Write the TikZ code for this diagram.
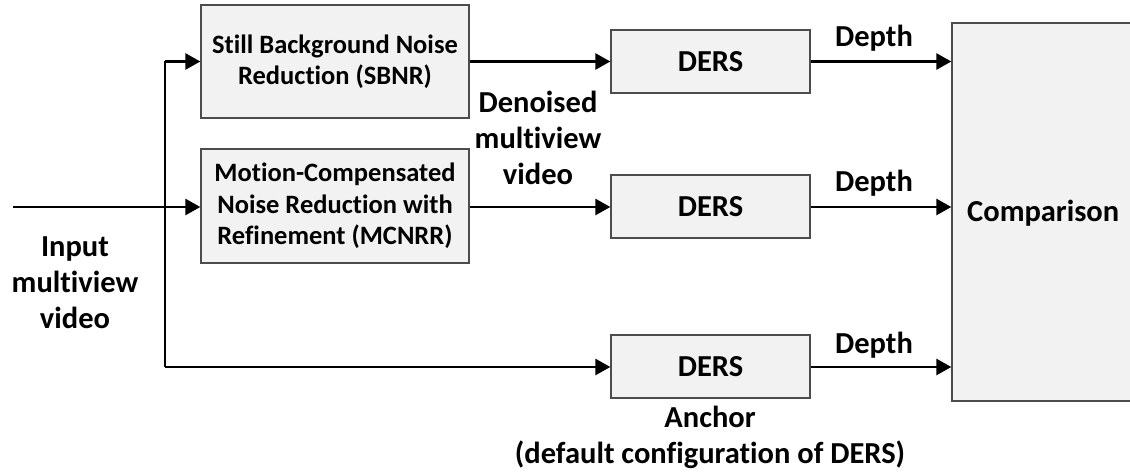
\documentclass[tikz,border=0pt]{standalone}
\usepackage{fontspec}
\setmainfont{Carlito}[Ligatures=NoCommon]
\usetikzlibrary{arrows.meta}
\begin{document}
\begin{tikzpicture}[x=1pt,y=-1pt,
  blk/.style={draw=black!70, line width=1.3pt, fill=black!5, inner sep=0pt},
  bigtxt/.style={font=\bfseries\fontsize{26.5}{31.5}\selectfont, align=center},
  derstxt/.style={font=\bfseries\fontsize{30.5}{36}\selectfont},
  conn/.style={line width=2.6pt, -{Triangle[length=15pt,width=16pt]}},
  plain/.style={line width=2.6pt},
  lbl/.style={font=\bfseries\fontsize{30.5}{36}\selectfont, align=center, inner sep=0pt}]
\useasboundingbox (0,0) rectangle (1130,473);
\clip (0,0) rectangle (1130,473);
% blocks
\node[blk, bigtxt, minimum width=268pt, minimum height=113pt] (sbnr) at (335,61.5) {Still Background Noise\\Reduction (SBNR)};
\node[blk, bigtxt, minimum width=268pt, minimum height=114pt] (mcnrr) at (335,206) {Motion-Compensated\\Noise Reduction with\\Refinement (MCNRR)};
\node[blk, derstxt, minimum width=199pt, minimum height=63pt] (d1) at (710.5,61.5) {DERS};
\node[blk, derstxt, minimum width=199pt, minimum height=63pt] (d2) at (710.5,206.5) {DERS};
\node[blk, derstxt, minimum width=199pt, minimum height=63pt] (d3) at (710.5,366.5) {DERS};
\node[blk, minimum width=200pt, minimum height=378pt] (cmp) at (1052,212) {};
\node[lbl, anchor=base west] (cmptxt) at (967,222) {Comparison};
% connectors
\coordinate (in) at (13,207);
\coordinate (bt) at (165,61.5);
\coordinate (bb) at (165,367);
\draw[conn] (in) -- (mcnrr.west |- in);
\draw[plain] (bb) -- (bt);
\draw[conn] (bt) -- (sbnr.west |- bt);
\draw[conn] (bb) -- (d3.west |- bb);
\draw[conn] (sbnr.east |- d1) -- (d1.west);
\draw[conn] (mcnrr.east |- in) -- (d2.west |- in);
\draw[conn] (d1.east) -- (cmp.west |- d1);
\draw[conn] (d2.east |- in) -- (cmp.west |- in);
\draw[conn] (d3.east |- bb) -- (cmp.west |- bb);
% labels (base anchor = baseline of the last line)
\node[lbl, anchor=base] (dp1) at (874,47) {Depth};
\node[lbl, anchor=base] (dp2) at (874,192) {Depth};
\node[lbl, anchor=base] (dp3) at (874,353) {Depth};
\node[lbl, anchor=base] (den) at (538,185) {Denoised\\multiview\\video};
\node[lbl, anchor=base] (inp) at (75,328) {Input\\multiview\\video};
\node[lbl, anchor=base] (anc) at (710,463) {Anchor\\(default configuration of DERS)};
\end{tikzpicture}
\end{document}
